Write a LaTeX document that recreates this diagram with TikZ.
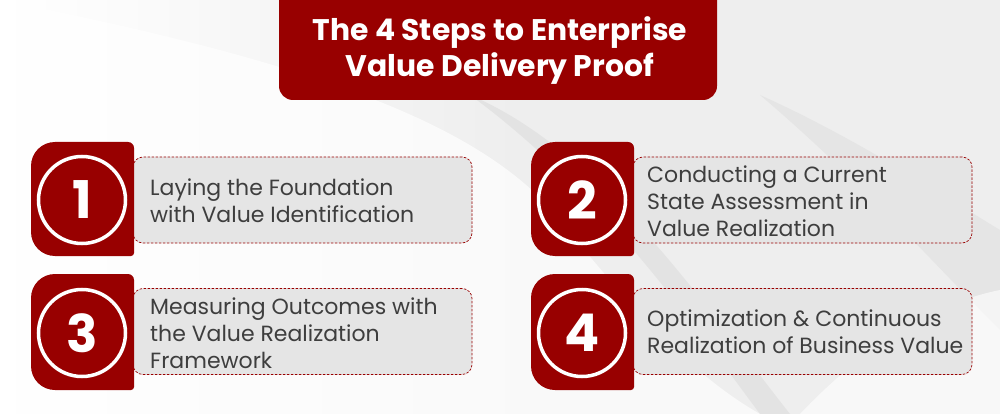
\documentclass[tikz,border=0pt]{standalone}
\usepackage{fontspec}
\setmainfont{Poppins}
\usetikzlibrary{positioning}

\definecolor{brandred}{RGB}{152,0,0}
\definecolor{boxgray}{RGB}{229,229,229}
\definecolor{textgray}{RGB}{62,62,62}
\definecolor{bggray}{RGB}{238,238,238}

\tikzset{
  stepbox/.style={draw=brandred, fill=boxgray, dashed, dash pattern=on 2.5pt off 1.5pt,
    line width=0.7pt, rounded corners=10pt, minimum width=339pt, minimum height=86pt},
  ring/.style={circle, draw=white, line width=3.5pt, minimum size=87pt, inner sep=0pt,
    font=\fontsize{52}{52}\selectfont\bfseries, text=white},
  steptext/.style={anchor=west, align=left, text=textgray, inner sep=0pt,
    font=\fontsize{22}{27}\selectfont},
  tile/.style={fill=brandred}
}

\begin{document}
\begin{tikzpicture}[x=1pt,y=-1pt]
  \useasboundingbox (0,0) rectangle (1000,414);

  % background
  \fill[bggray] (0,0) rectangle (1000,414);
  \shade[left color=white, right color=bggray] (0,0) rectangle (520,414);
  \fill[white, opacity=0.7] (0,0) .. controls (300,60) and (480,120) .. (560,220)
    .. controls (640,320) and (700,380) .. (760,414) -- (0,414) -- cycle;
  \fill[gray!30, opacity=0.5] (470,95) .. controls (600,150) and (700,300) .. (790,414)
    -- (760,414) .. controls (690,320) and (600,190) .. (470,95);
  \fill[gray!25, opacity=0.6] (760,95) .. controls (860,140) and (950,200) .. (1000,230)
    -- (1000,330) .. controls (930,260) and (860,180) .. (760,95);
  \fill[white, opacity=0.6] (800,414) .. controls (880,330) and (950,300) .. (1000,290)
    -- (1000,414) -- cycle;

  % title
  \node[fill=brandred, rounded corners=14pt, minimum width=438pt, minimum height=130pt]
    (titlebox) at (498,35) {};
  \node[text=white, align=center, font=\fontsize{29.8}{36}\selectfont\bfseries]
    (title) at (500,51) {The 4 Steps to Enterprise\\Value Delivery Proof};

  % step 1
  \node[stepbox] (box1) at (302.5,200) {};
  \fill[tile, rounded corners=24pt] (31,199) |- (80,142) [rounded corners=6pt] -| (134,199)
    [rounded corners=3pt] |- (80,256) [rounded corners=24pt] -| cycle;
  \node[ring] (num1) at (82,200) {1};
  \node[steptext] (txt1) at (150,201) {Laying the Foundation\\with Value Identification};

  % step 2
  \node[stepbox] (box2) at (802.5,200) {};
  \fill[tile, rounded corners=24pt] (531,199) |- (580,142) [rounded corners=6pt] -| (634,199)
    [rounded corners=3pt] |- (580,256) [rounded corners=24pt] -| cycle;
  \node[ring] (num2) at (582,200) {2};
  \node[steptext] (txt2) at (647,201) {Conducting a Current\\State Assessment in\\Value Realization};

  % step 3
  \node[stepbox] (box3) at (302.5,331.5) {};
  \fill[tile, rounded corners=24pt] (31,331) |- (80,274) [rounded corners=6pt] -| (134,331)
    [rounded corners=3pt] |- (80,390) [rounded corners=24pt] -| cycle;
  \node[ring] (num3) at (82,333) {3};
  \node[steptext] (txt3) at (150,333) {Measuring Outcomes with\\the Value Realization\\Framework};

  % step 4
  \node[stepbox] (box4) at (802.5,331.5) {};
  \fill[tile, rounded corners=24pt] (531,331) |- (580,274) [rounded corners=6pt] -| (634,331)
    [rounded corners=3pt] |- (580,390) [rounded corners=24pt] -| cycle;
  \node[ring] (num4) at (582,333) {4};
  \node[steptext] (txt4) at (647,332) {Optimization \& Continuous\\Realization of Business Value};
\end{tikzpicture}
\end{document}
